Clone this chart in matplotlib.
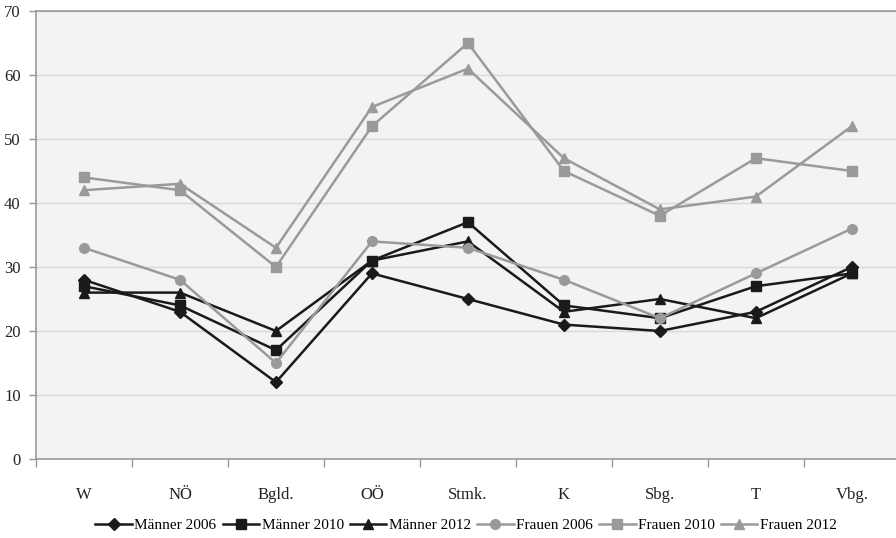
import matplotlib
matplotlib.use("Agg")
import matplotlib.pyplot as plt
from matplotlib.ticker import FixedLocator, NullFormatter

categories = ["W", "NÖ", "Bgld.", "OÖ", "Stmk.", "K", "Sbg.", "T", "Vbg."]
maenner_2006 = [28, 23, 12, 29, 25, 21, 20, 23, 30]
maenner_2010 = [27, 24, 17, 31, 37, 24, 22, 27, 29]
maenner_2012 = [26, 26, 20, 31, 34, 23, 25, 22, 29]
frauen_2006 = [33, 28, 15, 34, 33, 28, 22, 29, 36]
frauen_2010 = [44, 42, 30, 52, 65, 45, 38, 47, 45]
frauen_2012 = [42, 43, 33, 55, 61, 47, 39, 41, 52]
y_ticks = [0, 10, 20, 30, 40, 50, 60, 70]

series = [
    ("Männer 2006", maenner_2006, "#1a1a1a", "D", 6),
    ("Männer 2010", maenner_2010, "#1a1a1a", "s", 6.5),
    ("Männer 2012", maenner_2012, "#1a1a1a", "^", 7),
    ("Frauen 2006", frauen_2006, "#9a9a9c", "o", 7),
    ("Frauen 2010", frauen_2010, "#9a9a9c", "s", 6.5),
    ("Frauen 2012", frauen_2012, "#9a9a9c", "^", 7),
]

plt.rcParams['font.family'] = ['Liberation Serif', 'DejaVu Serif']

fig = plt.figure(figsize=(8.96, 5.38), dpi=100)
ax = fig.add_axes([36/896, 1 - 459/538, 1 - 36/896, (459 - 11)/538])
ax.set_facecolor("#f2f3f3")

x = list(range(len(categories)))
for name, vals, col, mk, ms in series:
    ax.plot(x, vals, color=col, marker=mk, markersize=ms, linewidth=1.8,
            label=name, zorder=3)

ax.set_xlim(-0.5, 8.46)
ax.set_ylim(0, 70)
ax.set_yticks(y_ticks)
ax.set_yticklabels([str(v) for v in y_ticks], fontsize=12, color="#222222")
ax.set_xticks(x)
ax.set_xticklabels(categories, fontsize=12, color="#222222")
ax.xaxis.set_minor_locator(FixedLocator([i + 0.5 for i in range(-1, 9)]))
ax.xaxis.set_minor_formatter(NullFormatter())
ax.tick_params(axis='x', which='major', length=0, pad=20)
ax.tick_params(axis='x', which='minor', length=6, color="#999999", width=1)
ax.tick_params(axis='y', length=5, color="#999999", width=1, pad=6)

ax.yaxis.grid(True, color="#d9d9d9", linewidth=1)
ax.set_axisbelow(True)
for s in ["left", "bottom", "top"]:
    ax.spines[s].set_color("#999999")
    ax.spines[s].set_linewidth(1.2)
ax.spines["right"].set_visible(False)

leg = fig.legend(loc="center", bbox_to_anchor=(466/896, 1 - 525/538), ncol=6,
                 frameon=False, fontsize=11, handlelength=2.4,
                 columnspacing=0.4, handletextpad=0.15)

fig.savefig("out.png", dpi=100)
